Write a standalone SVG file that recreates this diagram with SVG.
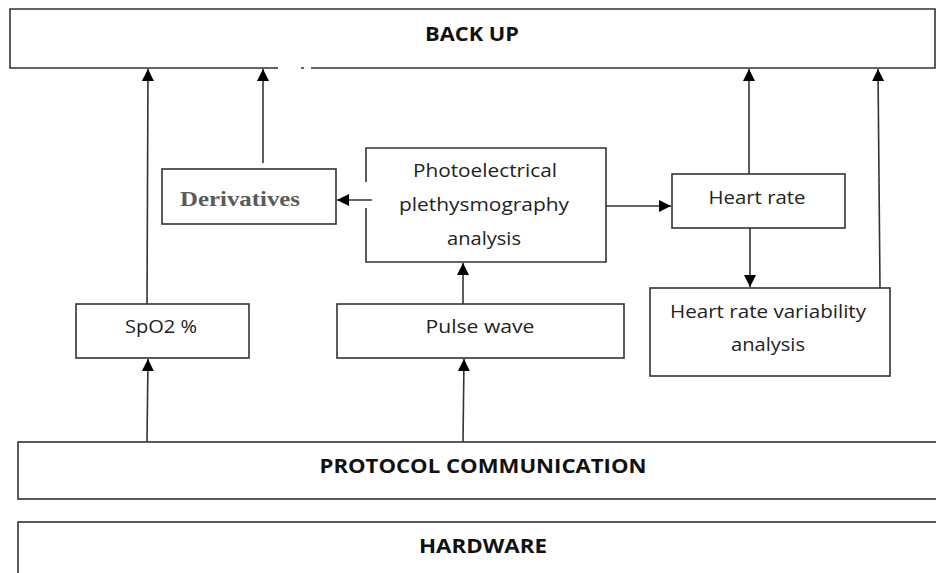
<svg xmlns="http://www.w3.org/2000/svg" width="936" height="573" viewBox="0 0 936 573">
<defs>
<style>
.box{fill:#fff;stroke:#333;stroke-width:1.6}
.edge{fill:none;stroke:#333;stroke-width:1.6}
.t{font-family:"Open Sans","Liberation Sans",sans-serif;font-size:19px;fill:#222;text-anchor:middle}
.b{font-family:"Open Sans","Liberation Sans",sans-serif;font-size:19px;font-weight:bold;fill:#111;text-anchor:middle}
.s{font-family:"Liberation Serif",serif;font-size:21px;font-weight:bold;fill:#5a5a5a}
.c{fill:none;stroke:#333;stroke-width:1.6}
</style>
<marker id="ah" markerWidth="12" markerHeight="12" refX="12" refY="6" orient="auto" markerUnits="userSpaceOnUse">
<path d="M0,0 L12,6 L0,12 z" fill="#000"/>
</marker>
</defs>
<rect width="936" height="573" fill="#fff"/>

<g id="backup">
<path class="edge" d="M278,68 L10,68 L10,9 L935,9 L935,68 L311,68 M301,68 L304,68"/>
<text class="b" x="472" y="41" textLength="94" lengthAdjust="spacingAndGlyphs">BACK UP</text>
</g>

<g id="derivatives">
<rect class="box" x="162" y="169" width="174" height="55"/>
<text class="s" x="180" y="206" textLength="120" lengthAdjust="spacingAndGlyphs">Derivatives</text>
</g>

<g id="ppg">
<path class="edge" d="M366,182 L366,148 L606,148 L606,262 L366,262 L366,208"/>
<text class="t" x="485" y="177" textLength="144" lengthAdjust="spacingAndGlyphs">Photoelectrical</text>
<text class="t" x="484" y="211" textLength="170" lengthAdjust="spacingAndGlyphs">plethysmography</text>
<text class="t" x="484" y="245" textLength="74" lengthAdjust="spacingAndGlyphs">analysis</text>
</g>

<g id="heartrate">
<rect class="box" x="672" y="174" width="173" height="54"/>
<text class="t" x="757" y="204" textLength="97" lengthAdjust="spacingAndGlyphs">Heart rate</text>
</g>

<g id="hrv">
<rect class="box" x="650" y="288" width="240" height="88"/>
<text class="t" x="768" y="318" textLength="196" lengthAdjust="spacingAndGlyphs">Heart rate variability</text>
<text class="t" x="768" y="351" textLength="74" lengthAdjust="spacingAndGlyphs">analysis</text>
</g>

<g id="spo2">
<rect class="box" x="76" y="304" width="173" height="54"/>
<text class="t" x="161" y="333" textLength="72" lengthAdjust="spacingAndGlyphs">SpO2 %</text>
</g>

<g id="pulsewave">
<rect class="box" x="337" y="304" width="287" height="54"/>
<text class="t" x="480" y="333" textLength="109" lengthAdjust="spacingAndGlyphs">Pulse wave</text>
</g>

<g id="protocol">
<rect class="box" x="18" y="442" width="930" height="57"/>
<text class="b" x="483" y="473" textLength="327" lengthAdjust="spacingAndGlyphs">PROTOCOL COMMUNICATION</text>
</g>

<g id="hardware">
<rect class="box" x="18" y="522" width="930" height="60"/>
<text class="b" x="483" y="553" textLength="128" lengthAdjust="spacingAndGlyphs">HARDWARE</text>
</g>

<g id="connectors">
<line class="c" x1="147" y1="304" x2="148" y2="69" marker-end="url(#ah)"/>
<line class="c" x1="263" y1="163" x2="263" y2="69" marker-end="url(#ah)"/>
<line class="c" x1="749" y1="174" x2="749" y2="69" marker-end="url(#ah)"/>
<line class="c" x1="880" y1="288" x2="878" y2="69" marker-end="url(#ah)"/>
<line class="c" x1="372" y1="200" x2="337" y2="200" marker-end="url(#ah)"/>
<line class="c" x1="606" y1="206" x2="671" y2="206" marker-end="url(#ah)"/>
<line class="c" x1="750" y1="228" x2="750" y2="287" marker-end="url(#ah)"/>
<line class="c" x1="463" y1="304" x2="463" y2="263" marker-end="url(#ah)"/>
<line class="c" x1="147" y1="442" x2="148" y2="359" marker-end="url(#ah)"/>
<line class="c" x1="463" y1="442" x2="464" y2="359" marker-end="url(#ah)"/>
</g>
</svg>
